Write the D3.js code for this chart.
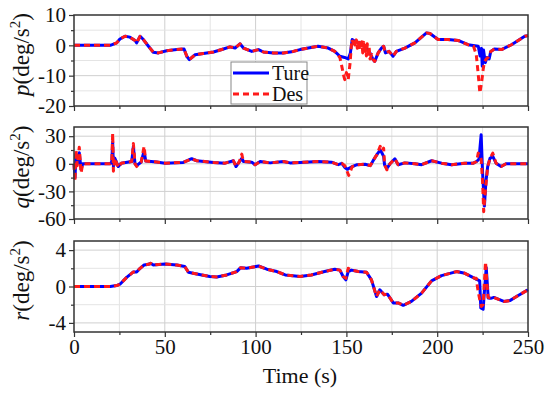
<!DOCTYPE html>
<html>
<head>
<meta charset="utf-8">
<script src="https://cdn.jsdelivr.net/npm/d3@7"></script>
<style>
  body { margin: 0; background: #fff; }
  svg text { font-family: "Liberation Serif", "Tinos", "DejaVu Serif", serif; }
</style>
</head>
<body>
<div id="my_dataviz"></div>
<script>
// time axis ticks
var timeTicks = [0, 50, 100, 150, 200, 250];
var timeMinor = [25, 75, 125, 175, 225];

// p panel : [time, value]
var pTure = [[0,0],[20,0],[23.5,0.8],[25.3,2.1],[28.1,3],[30.8,2.7],[33.6,1.6],[34.5,0.8],[36.4,3],[38.2,1.9],[41,-0.3],[43.7,-2.3],[46.5,-2.5],[51,-1.8],[56.6,-1.4],[60.6,-1.2],[62.1,-3.6],[63.5,-4.7],[66.7,-3.1],[71.2,-2.7],[76.8,-2.2],[82.3,-1.2],[85.9,-0.5],[88.7,-0.9],[91.4,0.5],[93.3,-0.9],[97.9,-2],[101.6,-1.4],[104.3,-2.2],[109.8,-2.5],[115.3,-2.5],[120.8,-2],[124.5,-1.4],[129,-0.9],[134.4,-0.3],[140,-0.9],[143.6,-2],[146.4,-3.6],[149,-4],[151,-4.5],[152.2,-2.5],[153.2,1.9],[155,1.2],[158,0.8],[161,-1],[163,-2.5],[164.7,-4.7],[165.6,-5.3],[167.5,-2.5],[169.3,-0.9],[170.5,-0.3],[171.5,-2.5],[173.5,-2],[175.7,-3.6],[177.5,-2],[182.2,-0.9],[187.7,0.8],[194.1,4.1],[196,3.9],[200.5,1.9],[206,1.9],[211.5,1.6],[217,0.2],[222.6,-0.3],[223.6,-3.5],[224.4,-1],[224.8,-6.9],[225.5,-1.5],[226.5,-5.7],[227.4,-4],[228.6,-4.5],[229.5,-2],[231.5,-1.2],[235.4,-1.4],[240.9,0.2],[248.2,3],[250,3.2]];
var pDes = [[0,0],[20,0],[23.5,0.8],[25.3,2.1],[28.1,3],[30.8,2.7],[33.6,1.6],[34.5,0.8],[36.4,3],[38.2,1.9],[41,-0.3],[43.7,-2.3],[46.5,-2.5],[51,-1.8],[56.6,-1.4],[60.6,-1.2],[62.1,-3.6],[63.5,-4.7],[66.7,-3.1],[71.2,-2.7],[76.8,-2.2],[82.3,-1.2],[85.9,-0.5],[88.7,-0.9],[91.4,0.5],[93.3,-0.9],[97.9,-2],[101.6,-1.4],[104.3,-2.2],[109.8,-2.5],[115.3,-2.5],[120.8,-2],[124.5,-1.4],[129,-0.9],[134.4,-0.3],[140,-0.9],[143.6,-2],[146.4,-4],[147.5,-7],[148.5,-10],[149.1,-11.3],[150,-9],[151,-11.3],[152,-6],[153,1.9],[154,0.5],[154.5,2],[155,-0.5],[155.5,1.8],[156,-1],[156.5,1.5],[157,-1.5],[157.5,1.7],[158,-1],[158.5,1.2],[159,-2.5],[159.5,1],[160,-3],[160.5,0.8],[161,-3.5],[161.5,0.5],[162,-4],[162.5,-0.5],[163,-4.5],[164,-3],[164.7,-4.7],[165.6,-5.3],[167.5,-2.5],[169.3,-0.9],[170.5,-0.3],[171.5,-2.5],[173.5,-2],[175.7,-3.6],[177.5,-2],[182.2,-0.9],[187.7,0.8],[194.1,4.1],[196,3.9],[200.5,1.9],[206,1.9],[211.5,1.6],[217,0.2],[220,-0.3],[221.5,-3],[222.5,-9],[223.5,-15.7],[224.5,-12],[225.3,-8],[226,-5.5],[227,-4.5],[228,-4],[229.5,-2],[231.5,-1.2],[235.4,-1.4],[240.9,0.2],[248.2,3],[250,3.2]];

// q panel
var qTure = [[0,0],[0.55,-15],[1.1,10],[1.8,0],[2.9,12],[3.9,-6],[4.8,0],[20,0],[20.8,2.5],[21.3,24],[21.7,-3],[22.5,6],[24.4,-3],[26,0.7],[31.8,2.5],[32.7,19],[33.6,0],[34.5,-2],[37,2],[38.6,14],[39.5,3],[45.5,2],[50.1,0.7],[60.2,1.5],[64.8,5.5],[67.6,3.3],[76.8,1.5],[83.2,0.7],[87.8,3.3],[89.2,-3],[91,2],[92.4,6],[93.3,2.5],[97.9,1.8],[99.7,-1],[102.5,2.5],[108,1],[115.3,2.5],[119,1],[124.5,1.5],[134.4,2.5],[141.8,1.8],[145.5,-1],[147.5,0.5],[149.1,-4],[150.5,-6],[153.2,-3],[155.9,-1],[160.3,-0.5],[163.2,-2],[165,4.4],[166.8,10],[168.6,15],[169.5,12],[170.5,8],[171,-1],[172.3,-5],[174,0],[176.7,5.5],[178.5,-1],[182.2,1],[187.7,0],[191.4,-1],[196.9,3.3],[202.4,0.7],[207.9,-1],[215.3,0.7],[219.9,0.7],[221.7,2.5],[223,5],[224.2,31.6],[225,-10],[226,-46],[226.8,-20],[227.8,-3],[229.1,6],[230.6,8],[232.4,0.7],[235.2,-3],[237.9,0],[250,0]];
var qDes = [[0,0],[0.55,-19],[1.1,15],[1.8,-2],[2.9,18],[3.9,-10],[4.8,0],[20,0],[20.8,2.5],[21.3,33],[21.7,-8],[22.5,6],[24.4,-4],[26,0.7],[31.8,2.5],[32.7,22],[33.6,0],[34.5,-3],[37,2],[38.6,19],[39.5,3],[45.5,2],[50.1,0.7],[60.2,1.5],[64.8,5.5],[67.6,3.3],[76.8,1.5],[83.2,0.7],[87.8,3.3],[89.2,-3],[91,2],[92.4,10.5],[93.3,2.5],[97.9,1.8],[99.7,-1],[102.5,2.5],[108,1],[115.3,2.5],[119,1],[124.5,1.5],[134.4,2.5],[141.8,1.8],[145.5,-1],[147.5,0.5],[149.1,-2],[151.3,-12.7],[153.2,-3],[155.9,-1],[160.3,-0.5],[163.2,-2],[165,4.4],[166.8,10],[168.6,19],[169.5,14],[170.5,17],[171,-1],[172.3,-6.5],[174,0],[176.7,5.5],[178.5,-1],[182.2,1],[187.7,0],[191.4,-1],[196.9,3.3],[202.4,0.7],[207.9,-1],[215.3,0.7],[219.9,0.7],[221.7,2.5],[222.6,11.6],[223.5,9],[224.2,5],[225,-20],[225.6,-52],[226.5,-30],[227.8,-3],[229.1,6],[230.6,11.6],[232.4,0.7],[235.2,-3],[237.9,0],[250,0]];

// r panel
var rTure = [[0,0],[20,0],[23.5,0.1],[25.3,0.25],[29,1],[32.7,1.6],[34.5,1.6],[36.4,2],[38.6,2.36],[41,2.44],[42.2,2.55],[43.7,2.36],[50.1,2.47],[56.6,2.36],[61,2.2],[63,1.56],[67.6,1.38],[74.7,1.1],[78.6,1.05],[84.1,1.27],[89.6,1.64],[91.8,2.07],[95.1,2],[101.6,2.25],[106.2,1.9],[111.7,1.64],[116.3,1.27],[124.5,1.1],[130.7,1.27],[138,1.64],[143.6,1.9],[146.4,1.8],[148.2,1.1],[149.7,0.73],[151,1.64],[152.8,1.8],[156.5,1.64],[161.1,1.56],[163.8,0.73],[166.6,-1.1],[168.4,-0.36],[170.8,-0.9],[172.6,-0.84],[175.8,-1.8],[178.5,-1.8],[181.3,-2.07],[185.8,-1.64],[191.4,-0.73],[196.9,0.62],[202.4,1.2],[210.6,1.64],[215.2,1.45],[220.7,0.9],[223.4,0.62],[224,-2.36],[225.3,-2.5],[226.2,0],[227,2.1],[228.1,-1.27],[229.5,-1.3],[231.2,-1.2],[236.7,-1.64],[240,-1.55],[243.7,-1.1],[250,-0.36]];
var rDes = [[0,0],[20,0],[23.5,0.1],[25.3,0.25],[29,1],[32.7,1.6],[34.5,1.6],[36.4,2],[38.6,2.36],[41,2.44],[42.2,2.55],[43.7,2.36],[50.1,2.47],[56.6,2.36],[61,2.2],[63,1.56],[67.6,1.38],[74.7,1.1],[78.6,1.05],[84.1,1.27],[89.6,1.64],[91.8,2.07],[95.1,2],[101.6,2.25],[106.2,1.9],[111.7,1.64],[116.3,1.27],[124.5,1.1],[130.7,1.27],[138,1.64],[143.6,1.9],[146.4,1.8],[148.2,1.1],[149.7,0.9],[151,2],[152.8,1.8],[156.5,1.64],[161.1,1.56],[163.8,0.73],[166.6,-1.1],[168.4,-0.36],[170.8,-0.9],[172.6,-0.84],[175.8,-1.8],[178.5,-1.8],[181.3,-2.07],[185.8,-1.64],[191.4,-0.73],[196.9,0.62],[202.4,1.2],[210.6,1.64],[215.2,1.45],[220.7,0.9],[221.5,0.9],[222.5,-0.5],[223.5,-1.5],[224.3,-2.2],[225.3,-2],[226.6,2.7],[228,-1.2],[229.5,-1.3],[231.2,-1.2],[236.7,-1.64],[240,-1.55],[243.7,-1.1],[250,-0.36]];

// panel settings
var panels = [
  {name: "p", ture: pTure, des: pDes, domain: [-20, 10], major: [-20, -10, 0, 10], minor: [-15, -5, 5], grid: [-15, -10, -5, 0, 5], top: 15, bottom: 106},
  {name: "q", ture: qTure, des: qDes, domain: [-60, 40], major: [-60, -30, 0, 30], minor: [-45, -15, 15], grid: [-45, -30, -15, 0, 15, 30], top: 127, bottom: 219},
  {name: "r", ture: rTure, des: rDes, domain: [-5, 5], major: [-4, 0, 4], minor: [-2, 2], grid: [-4, -2, 0, 2, 4], top: 241, bottom: 332}
];

var serif = "'Liberation Serif', 'Tinos', 'DejaVu Serif', serif";
var width = 550, height = 395;
var left = 74, right = 528;

var svg = d3.select("#my_dataviz")
  .append("svg")
    .attr("width", width)
    .attr("height", height)
    .attr("font-family", serif);

var x = d3.scaleLinear()
  .domain([0, 250])
  .range([left, right]);

panels.forEach(function(p, i) {
  var y = d3.scaleLinear()
    .domain(p.domain)
    .range([p.bottom, p.top]);

  var g = svg.append("g");

  // grid
  g.selectAll("vgrid")
    .data(timeTicks.concat(timeMinor).filter(function(d){ return d > 0 && d < 250; }))
    .enter()
    .append("line")
      .attr("x1", function(d){ return x(d); })
      .attr("x2", function(d){ return x(d); })
      .attr("y1", p.top)
      .attr("y2", p.bottom)
      .attr("stroke", function(d){ return d % 50 == 0 ? "#cfcfcf" : "#e4e4e4"; })
      .attr("stroke-width", 1);

  g.selectAll("hgrid")
    .data(p.grid)
    .enter()
    .append("line")
      .attr("x1", left)
      .attr("x2", right)
      .attr("y1", function(d){ return y(d); })
      .attr("y2", function(d){ return y(d); })
      .attr("stroke", function(d){ return p.major.indexOf(d) >= 0 ? "#cfcfcf" : "#e4e4e4"; })
      .attr("stroke-width", 1);

  // lines
  var line = d3.line()
    .x(function(d) { return x(d[0]); })
    .y(function(d) { return y(d[1]); });

  g.append("path")
    .datum(p.ture)
    .attr("fill", "none")
    .attr("stroke", "#0000ff")
    .attr("stroke-width", 3)
    .attr("stroke-linejoin", "round")
    .attr("d", line);

  g.append("path")
    .datum(p.des)
    .attr("fill", "none")
    .attr("stroke", "#ff1a1a")
    .attr("stroke-width", 3)
    .attr("stroke-dasharray", "6,4")
    .attr("stroke-linejoin", "round")
    .attr("d", line);

  // frame
  g.append("rect")
    .attr("x", left)
    .attr("y", p.top)
    .attr("width", right - left)
    .attr("height", p.bottom - p.top)
    .attr("fill", "none")
    .attr("stroke", "#333")
    .attr("stroke-width", 1.5);

  // y axis
  var yMajor = g.append("g")
    .attr("transform", "translate(" + left + ",0)")
    .call(d3.axisLeft(y).tickValues(p.major).tickSize(5).tickPadding(3).tickFormat(function(d){ return String(d); }));
  var yMinor = g.append("g")
    .attr("transform", "translate(" + left + ",0)")
    .call(d3.axisLeft(y).tickValues(p.minor).tickSize(3).tickFormat(""));

  // x axis
  var xMajor = g.append("g")
    .attr("transform", "translate(0," + p.bottom + ")")
    .call(d3.axisBottom(x).tickValues(timeTicks).tickSize(5).tickPadding(2)
      .tickFormat(i == 2 ? function(d){ return String(d); } : ""));
  var xMinor = g.append("g")
    .attr("transform", "translate(0," + p.bottom + ")")
    .call(d3.axisBottom(x).tickValues(timeMinor).tickSize(3).tickFormat(""));

  [yMajor, yMinor, xMajor, xMinor].forEach(function(a) {
    a.attr("font-family", serif).attr("font-size", 21);
    a.select(".domain").remove();
    a.selectAll(".tick line").attr("stroke", "#333").attr("stroke-width", 1.2);
    a.selectAll("text").attr("fill", "#111");
  });

  // y label
  var lab = svg.append("text")
    .attr("transform", "translate(29," + ((p.top + p.bottom) / 2 - 6) + ") rotate(-90)")
    .attr("text-anchor", "middle")
    .attr("font-size", 23)
    .attr("fill", "#111");
  lab.append("tspan").attr("font-style", "italic").text(p.name);
  lab.append("tspan").text("(deg/s");
  lab.append("tspan").attr("dy", -9).attr("font-size", 15).text("2");
  lab.append("tspan").attr("dy", 9).text(")");
});

// x label
svg.append("text")
  .attr("x", 300)
  .attr("y", 383)
  .attr("text-anchor", "middle")
  .attr("font-size", 22)
  .attr("fill", "#111")
  .text("Time (s)");

// legend
var legend = svg.append("g");
legend.append("rect")
  .attr("x", 231)
  .attr("y", 62)
  .attr("width", 76)
  .attr("height", 42)
  .attr("fill", "#fff")
  .attr("stroke", "#888")
  .attr("stroke-width", 1);
legend.append("line")
  .attr("x1", 233).attr("x2", 269)
  .attr("y1", 73).attr("y2", 73)
  .attr("stroke", "#0000ff")
  .attr("stroke-width", 3);
legend.append("line")
  .attr("x1", 233).attr("x2", 269)
  .attr("y1", 94).attr("y2", 94)
  .attr("stroke", "#ff1a1a")
  .attr("stroke-width", 3)
  .attr("stroke-dasharray", "6,4");
legend.append("text")
  .attr("x", 272).attr("y", 80)
  .attr("font-size", 20)
  .attr("fill", "#111")
  .text("Ture");
legend.append("text")
  .attr("x", 272).attr("y", 101)
  .attr("font-size", 20)
  .attr("fill", "#111")
  .text("Des");
</script>
</body>
</html>
